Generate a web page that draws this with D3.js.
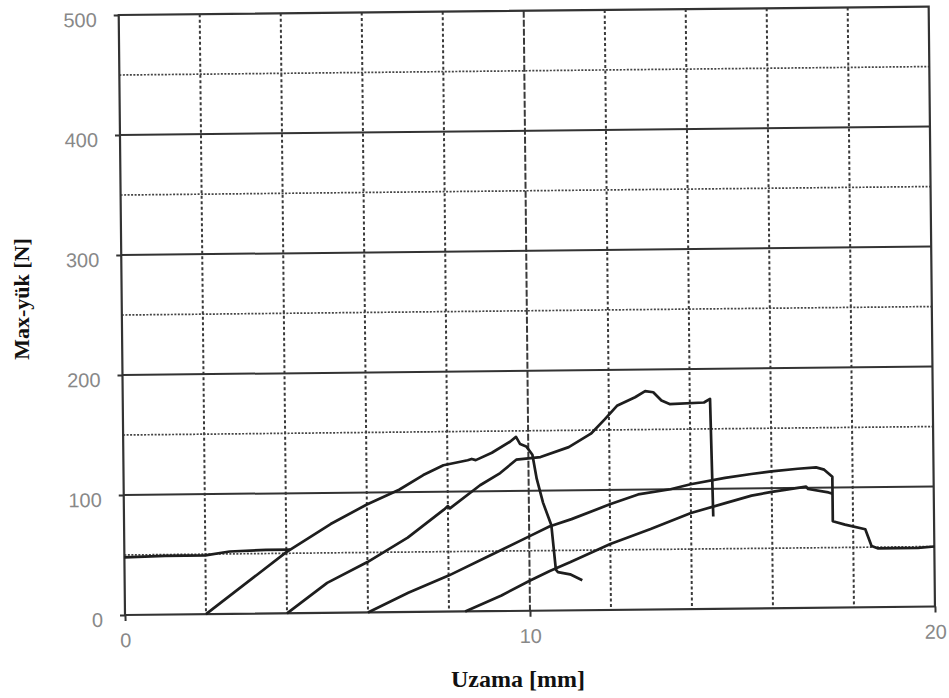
<!DOCTYPE html>
<html>
<head>
<meta charset="utf-8">
<script src="https://cdn.jsdelivr.net/npm/d3@7"></script>
<style>
  body { margin: 0; background: #fff; }
  .tick text { font-family: "Liberation Sans", Arial, sans-serif; font-size: 20px; fill: #888; }
  .title { font-family: "Liberation Serif", "Times New Roman", serif; font-weight: bold; font-size: 24px; fill: #111; }
</style>
</head>
<body>
<svg width="949" height="698"></svg>
<script>

// tick values
const xTicks = [0, 10, 20];
const yTicks = [0, 100, 200, 300, 400, 500];
const xGrid = [2, 4, 6, 8, 10, 12, 14, 16, 18];
const yGridMajor = [100, 200, 300, 400];
const yGridMinor = [50, 150, 250, 350, 450];

// curves: [uzama mm, yük N]
const baseline = [[0, 48], [1, 49], [2, 49], [2.6, 52], [3.5, 53], [4.1, 53]];
const curve1 = [[2, 0], [4, 51], [5.1, 74], [6, 90], [6.8, 102], [7.4, 114], [7.9, 122], [8.5, 126],
  [8.6, 127], [8.7, 126], [9.1, 132], [9.55, 141], [9.7, 145], [9.8, 139], [9.95, 137], [10.1, 130],
  [10.2, 110], [10.35, 90], [10.55, 71], [10.65, 34], [10.7, 32], [11, 30], [11.3, 25]];
const curve2 = [[4, 0], [5, 25], [6, 42], [7, 62], [7.9, 85], [8, 88], [8.05, 86], [8.8, 105], [9.3, 115],
  [9.7, 126], [10, 127], [10.3, 128], [11, 136], [11.55, 147], [11.9, 159], [12.2, 170], [12.65, 177],
  [12.9, 182], [13.1, 181], [13.3, 174], [13.5, 171], [14.35, 172], [14.5, 175], [14.55, 77]];
const curve3 = [[6, 0], [7, 16], [8, 30], [9, 46], [10, 62], [10.5, 70], [11.05, 76], [12, 88], [12.7, 96],
  [13.5, 100], [14, 104], [14.85, 109], [15.5, 112], [16, 114], [16.65, 116], [17.1, 117], [17.3, 115],
  [17.5, 109], [17.5, 72], [17.8, 69], [18.3, 65], [18.45, 51], [18.6, 49], [19.6, 49], [20, 50]];
const curve4 = [[8.4, 0], [9.3, 13], [10, 25], [10.5, 33], [11, 40], [12, 55], [13, 67], [14, 80],
  [14.85, 88], [15.5, 94], [16, 97], [16.85, 101], [16.9, 99], [17.4, 96], [17.5, 95]];

const curves = [baseline, curve1, curve2, curve3, curve4];

const width = 810, height = 600;

const svg = d3.select('svg');

// the scan is slightly tilted, so the whole plot is turned a little
const g = svg.append("g")
    .attr("transform", "translate(125,615) rotate(-0.6) translate(0," + (-height) + ")");

const x_scale = d3.scaleLinear().domain([0, 20]).range([0, width]);
const y_scale = d3.scaleLinear().domain([0, 500]).range([height, 0]);

// grid
g.selectAll(".vgrid").data(xGrid).enter().append("line")
  .attr("x1", d => x_scale(d)).attr("x2", d => x_scale(d))
  .attr("y1", 0).attr("y2", height)
  .attr("stroke", "#3a3a3a").attr("stroke-width", 2)
  .attr("stroke-dasharray", d => d === 10 ? "7,2" : "3,2.5");

g.selectAll(".hminor").data(yGridMinor).enter().append("line")
  .attr("x1", 0).attr("x2", width)
  .attr("y1", d => y_scale(d)).attr("y2", d => y_scale(d))
  .attr("stroke", "#444").attr("stroke-width", 1.7)
  .attr("stroke-dasharray", "2,1.5");

g.selectAll(".hmajor").data(yGridMajor).enter().append("line")
  .attr("x1", 0).attr("x2", width)
  .attr("y1", d => y_scale(d)).attr("y2", d => y_scale(d))
  .attr("stroke", "#333").attr("stroke-width", 2);

// frame
g.append("rect")
  .attr("x", 0).attr("y", 0).attr("width", width).attr("height", height)
  .attr("fill", "none").attr("stroke", "#333").attr("stroke-width", 2.2);

// axes
const yAxis = g.append("g")
  .call(d3.axisLeft(y_scale).tickValues(yTicks).tickSize(5).tickPadding(17));
yAxis.select(".domain").remove();
yAxis.selectAll(".tick line").attr("stroke", "#333").attr("stroke-width", 2);
yAxis.selectAll(".tick text").attr("dy", "0.56em");

const xAxis = g.append("g")
  .attr("transform", "translate(0," + height + ")")
  .call(d3.axisBottom(x_scale).tickValues(xTicks).tickSize(6).tickPadding(12));
xAxis.select(".domain").remove();
xAxis.selectAll(".tick line").attr("stroke", "#333").attr("stroke-width", 2);

// curves
const line = d3.line()
  .x(d => x_scale(d[0]))
  .y(d => y_scale(d[1]));

g.selectAll(".curve").data(curves).enter().append("path")
  .attr("d", line)
  .attr("fill", "none")
  .attr("stroke", "#1e1e1e")
  .attr("stroke-width", 2.7)
  .attr("stroke-linejoin", "round");

// axis titles
svg.append("text")
  .attr("class", "title")
  .attr("x", 518).attr("y", 687)
  .attr("text-anchor", "middle")
  .text("Uzama [mm]");

svg.append("text")
  .attr("class", "title")
  .attr("transform", "translate(29,299) rotate(-90)")
  .attr("text-anchor", "middle")
  .attr("font-size", 22)
  .style("font-size", "22px")
  .text("Max-yük [N]");

</script>
</body>
</html>
